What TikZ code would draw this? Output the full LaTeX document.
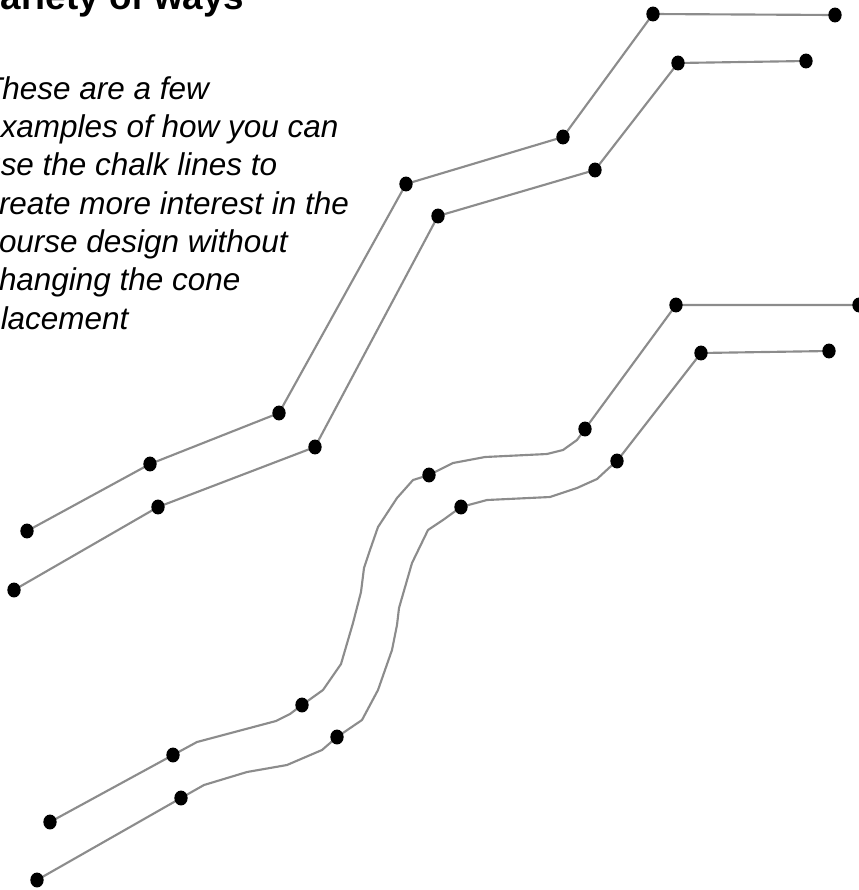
\documentclass[tikz,border=0pt]{standalone}
\usepackage{fontspec}
\setmainfont{Liberation Sans}
\definecolor{chalkgray}{RGB}{140,140,140}

\begin{document}
\begin{tikzpicture}[x=0.75pt, y=-0.75pt,
    chalk/.style={line width=1.6pt, chalkgray, line join=round},
    cone/.style={fill=black},
    blurb/.style={align=left, anchor=base west, inner sep=0pt,
        font=\itshape\fontsize{23.6}{28.7}\selectfont}]
        % ==== FRAME ====
        \useasboundingbox (0,0) rectangle (859,890);
        \clip (0,0) rectangle (859,890);
        % ==== TITLE AND TEXT ====
        \node[anchor=base west, inner sep=0pt, font=\bfseries\fontsize{27.6}{33}\selectfont]
            (title) at (-22,9.5) {Variety of ways};
        % anchor sits on the last line (placement)
        \node[blurb] (note) at (-17,329) {These are a few\\examples of how you can\\use the chalk lines to\\create more interest in the\\course design without\\changing the cone\\placement};

        % ==== STRAIGHT PAIR ====
        \coordinate (a1) at (27,531);  \coordinate (a2) at (150,464);
        \coordinate (a3) at (279,413); \coordinate (a4) at (406,184);
        \coordinate (a5) at (563,137); \coordinate (a6) at (653,14);
        \coordinate (a7) at (835,15);
        \coordinate (b1) at (14,590);  \coordinate (b2) at (158,507);
        \coordinate (b3) at (315,447); \coordinate (b4) at (438,216);
        \coordinate (b5) at (595,170); \coordinate (b6) at (678,63);
        \coordinate (b7) at (806,61);
        \draw[chalk] (a1) -- (a2) -- (a3) -- (a4) -- (a5) -- (a6) -- (a7);
        \draw[chalk] (b1) -- (b2) -- (b3) -- (b4) -- (b5) -- (b6) -- (b7);

        % ==== CURVED PAIR ====
        \coordinate (c1) at (50,822);  \coordinate (c2) at (173,755);
        \coordinate (c3) at (302,705); \coordinate (c4) at (429,475);
        \coordinate (c5) at (585,429); \coordinate (c6) at (676,305);
        \coordinate (c7) at (859,305);
        \coordinate (d1) at (37,880);  \coordinate (d2) at (181,798);
        \coordinate (d3) at (337,737); \coordinate (d4) at (461,507);
        \coordinate (d5) at (617,461); \coordinate (d6) at (701,353);
        \coordinate (d7) at (829,351);
        \draw[chalk] (c1) -- (c2) -- (197,742) -- (276,721) -- (290,714) -- (c3)
            -- (323,690) -- (341,664) -- (353,623) -- (361,592) -- (364,568)
            -- (370,550) -- (378,527) -- (397,498) -- (413,480) -- (c4)
            -- (453,463) -- (485,457) -- (547,454) -- (563,450) -- (577,440)
            -- (c5) -- (c6) -- (c7);
        \draw[chalk] (d1) -- (d2) -- (204,785) -- (247,772) -- (287,765) -- (322,750)
            -- (d3) -- (362,720) -- (378,690) -- (392,650) -- (397,625) -- (399,608)
            -- (412,563) -- (428,530) -- (443,520) -- (d4) -- (487,500) -- (550,497)
            -- (577,488) -- (597,479) -- (610,467) -- (d5) -- (d6) -- (d7);

        % ==== CONES ====
        \foreach \c in {a1,a2,a3,a4,a5,a6,a7,b1,b2,b3,b4,b5,b6,b7,
                        c1,c2,c3,c4,c5,c6,c7,d1,d2,d3,d4,d5,d6,d7}
            \fill[cone] (\c) ellipse [x radius=5pt, y radius=5.6pt];
\end{tikzpicture}
\end{document}
